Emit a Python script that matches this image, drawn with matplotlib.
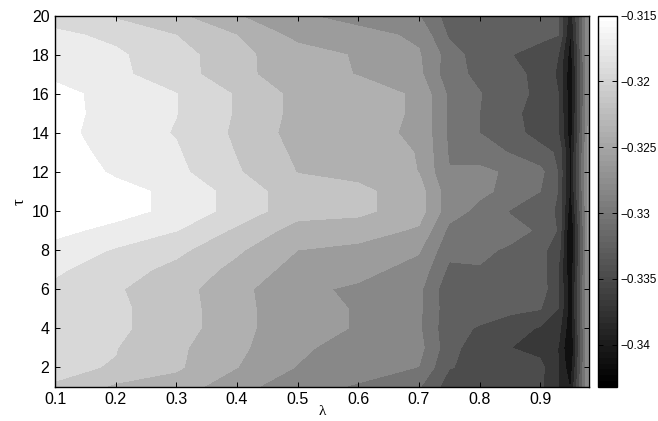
import numpy as np
import matplotlib
matplotlib.use('Agg')
import matplotlib.pyplot as plt
from matplotlib.cm import ScalarMappable
from matplotlib.colors import Normalize

plt.rcParams['font.family'] = ['Liberation Sans', 'DejaVu Sans']

lam = [0.1, 0.2, 0.3, 0.4, 0.5, 0.6, 0.7, 0.75, 0.8, 0.85, 0.9, 0.93, 0.95, 0.98]
tau = list(range(1, 21))

# one row per tau
z_rows = [
    [-.32173, -.32424, -.32486, -.32739, -.32963, -.33062, -.33238, -.3359, -.3359, -.33601, -.33656, -.3392, -.34162, -.32776],
    [-.32127, -.32171, -.32347, -.32596, -.32831, -.32952, -.33044, -.33469, -.33535, -.3359, -.33634, -.3392, -.34294, -.32776],
    [-.32094, -.32153, -.32336, -.32556, -.32765, -.32952, -.32963, -.33396, -.33612, -.33696, -.33777, -.33924, -.34404, -.32776],
    [-.32039, -.32116, -.32281, -.32523, -.32765, -.32831, -.33007, -.33414, -.33498, -.33601, -.33722, -.33832, -.34316, -.32776],
    [-.32006, -.32116, -.32281, -.32523, -.32765, -.32831, -.32996, -.33392, -.33392, -.33425, -.33469, -.337, -.34272, -.32776],
    [-.31984, -.32138, -.32292, -.32534, -.32776, -.32853, -.32987, -.33414, -.3337, -.33381, -.33348, -.33689, -.34272, -.32776],
    [-.31907, -.32061, -.32226, -.32446, -.32688, -.32754, -.32897, -.33304, -.33271, -.33315, -.3337, -.337, -.34338, -.32776],
    [-.31788, -.31962, -.32105, -.32347, -.326, -.32655, -.32798, -.33194, -.33227, -.33282, -.33414, -.3359, -.34404, -.32754],
    [-.31667, -.31782, -.31936, -.32204, -.32468, -.32501, -.32633, -.33095, -.33161, -.33205, -.33282, -.33502, -.34404, -.32754],
    [-.31544, -.31645, -.31775, -.32028, -.32292, -.32327, -.32503, -.32943, -.33095, -.33271, -.3337, -.33513, -.34294, -.32732],
    [-.31544, -.31645, -.31775, -.32028, -.32292, -.32327, -.32503, -.32943, -.32996, -.33095, -.3326, -.33491, -.34206, -.3271],
    [-.31566, -.31753, -.31885, -.32138, -.32387, -.32446, -.32604, -.33029, -.32989, -.33073, -.33194, -.33491, -.34184, -.32688],
    [-.31621, -.31786, -.31918, -.32171, -.32424, -.32479, -.32611, -.33062, -.3315, -.33271, -.33425, -.33502, -.34206, -.3271],
    [-.31636, -.31841, -.31953, -.322, -.32468, -.32545, -.32629, -.3308, -.3326, -.33414, -.33546, -.33689, -.34272, -.32754],
    [-.31632, -.31808, -.31936, -.32182, -.32446, -.32461, -.32644, -.33084, -.3326, -.33425, -.33568, -.33689, -.34294, -.32776],
    [-.31672, -.31775, -.31936, -.32182, -.32446, -.32461, -.32644, -.33084, -.33249, -.33392, -.33535, -.337, -.34316, -.32798],
    [-.31753, -.31896, -.3205, -.32325, -.3249, -.32611, -.32765, -.33172, -.33315, -.33403, -.33546, -.33733, -.34316, -.32798],
    [-.3183, -.31909, -.32061, -.32325, -.32501, -.32622, -.32798, -.33139, -.33381, -.33469, -.3359, -.337, -.3425, -.32798],
    [-.31896, -.31984, -.3216, -.3238, -.32666, -.32732, -.32864, -.33293, -.33348, -.3337, -.33414, -.3348, -.34162, -.32798],
    [-.32028, -.32193, -.32343, -.32587, -.32787, -.32919, -.33029, -.33359, -.33392, -.33414, -.33447, -.3348, -.34052, -.3282],
]

levels = [-.3446, -.3436, -.3414, -.3392, -.337, -.3348, -.3326, -.3304, -.3282, -.326, -.3238, -.3216, -.3194, -.3172, -.315]
cbar_ticks = [-.315, -.32, -.325, -.33, -.335, -.34]
cbar_labels = ['\u22120.315', '\u22120.32', '\u22120.325', '\u22120.33', '\u22120.335', '\u22120.34']
cbar_min = -.3432
cbar_max = -.315

cmap = plt.get_cmap('gray', 64)
norm = Normalize(cbar_min, cbar_max)
# each band takes the colour of its upper level
band_colors = [plt.get_cmap('gray')(norm(l)) for l in levels[1:]]

fig = plt.figure(figsize=(6.58, 4.21), dpi=100)
W, H = 658, 421
ax = fig.add_axes([55 / W, 1 - 386.8 / H, (588.7 - 55) / W, (386.8 - 15.7) / H])
ax.contourf(lam, tau, np.array(z_rows), levels=levels, colors=band_colors)

ax.set_xlim(0.1, 0.98)
ax.set_ylim(1, 20)
ax.set_xticks([0.1, 0.2, 0.3, 0.4, 0.5, 0.6, 0.7, 0.8, 0.9])
ax.set_xticklabels(['0.1', '0.2', '0.3', '0.4', '0.5', '0.6', '0.7', '0.8', '0.9'])
ax.set_yticks(range(2, 21, 2))
ax.tick_params(direction='in', top=True, right=True, length=3.5, width=0.7, labelsize=11.5, pad=4)
for s in ax.spines.values():
    s.set_linewidth(1.0)
ax.set_xlabel('\u03bb', fontsize=11, family='Liberation Serif', labelpad=-2)
ax.set_ylabel('\u03c4', fontsize=12, family='Liberation Serif', labelpad=3)

cax = fig.add_axes([597.7 / W, 1 - 386.8 / H, (617.3 - 597.7) / W, (386.8 - 15.7) / H])
cb = fig.colorbar(ScalarMappable(norm=norm, cmap=cmap), cax=cax)
cb.set_ticks(cbar_ticks)
cb.set_ticklabels(cbar_labels)
cax.tick_params(direction='in', left=True, right=True, length=3.5, width=0.7, labelsize=8.5, pad=2)
cb.outline.set_linewidth(1.0)

fig.savefig('out.png', dpi=100)
